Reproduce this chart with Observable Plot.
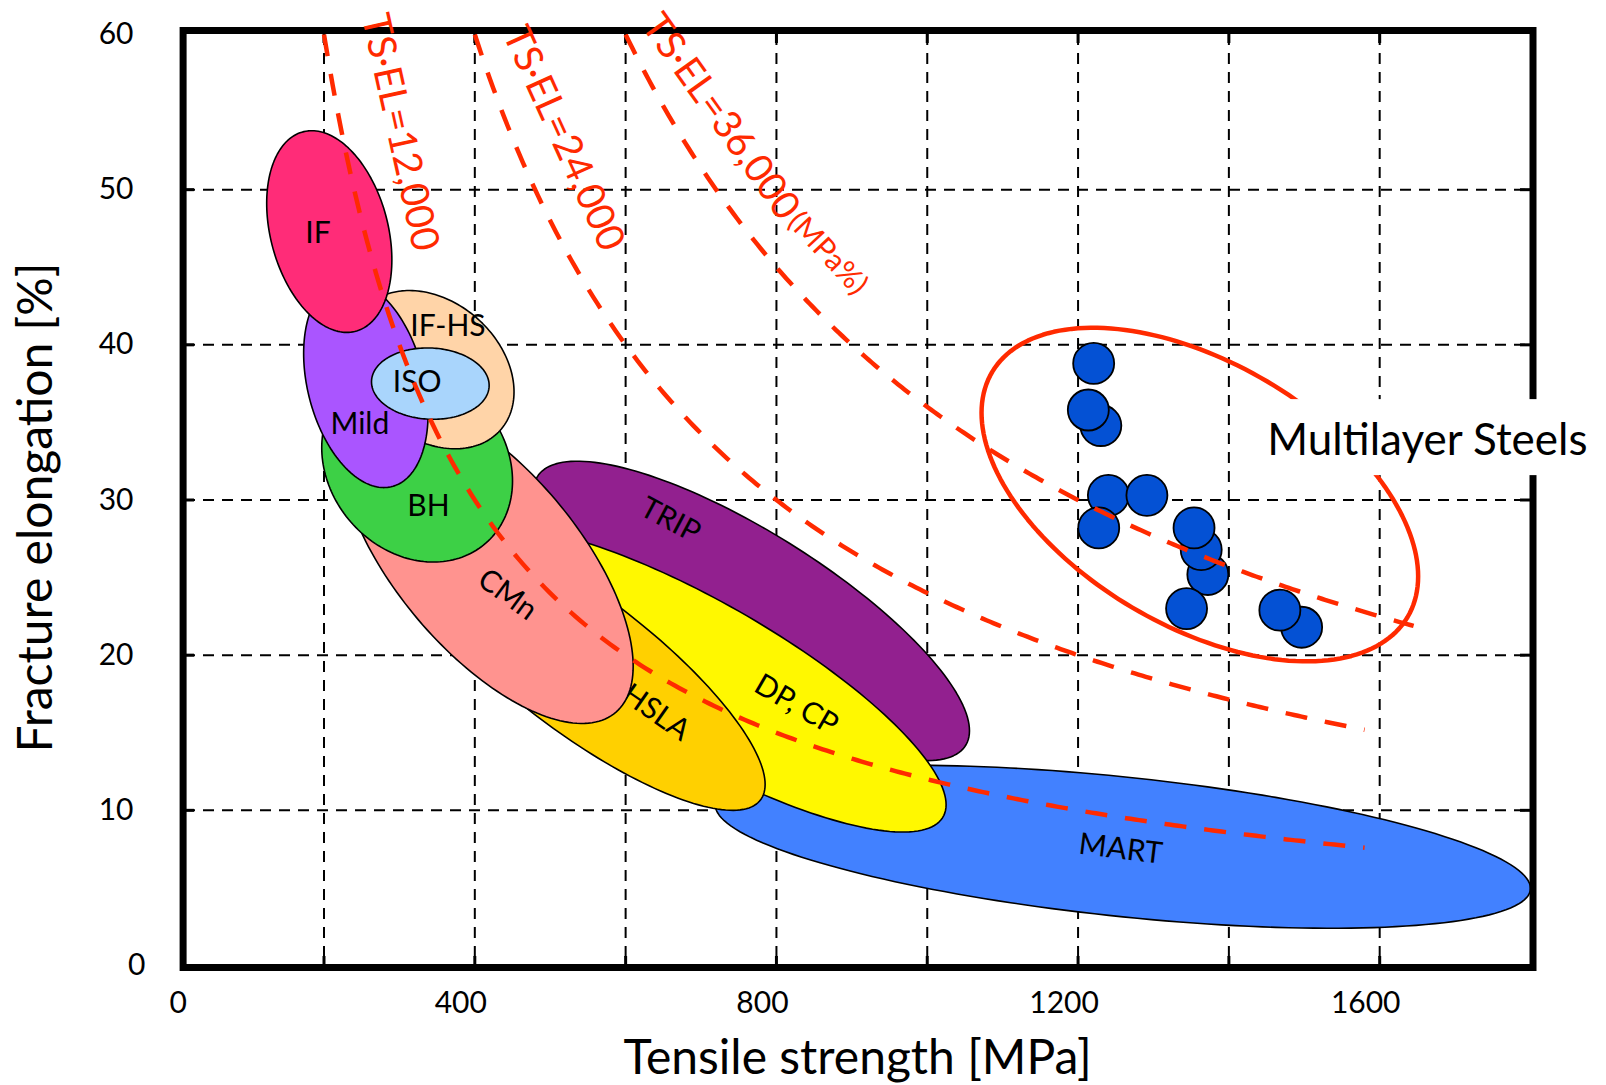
<!DOCTYPE html>
<html>
<head>
<meta charset="utf-8">
<script src="https://cdn.jsdelivr.net/npm/d3@7"></script>
<script src="https://cdn.jsdelivr.net/npm/@observablehq/plot@0.6"></script>
<style>
  html, body { margin: 0; padding: 0; background: #fff; }
  svg { display: block; }
</style>
</head>
<body>
<div id="chart"></div>
<script>
// Steel grade envelopes (drawn bottom to top): tensile strength range [MPa],
// fracture elongation range [%] and how strongly the two trade off (-1..0)
const grades = ["MART", "TRIP", "DP, CP", "HSLA", "CMn", "BH", "IF-HS", "Mild", "ISO", "IF"];
const tsMin  = [719, 478, 386, 291, 222, 197, 235, 173, 263, 124];
const tsMax  = [1800, 1056, 1025, 785, 610, 450, 452, 338, 419, 290];
const elMin  = [2.4, 13.2, 8.6, 10.0, 15.6, 26.0, 33.3, 30.8, 35.2, 40.8];
const elMax  = [12.9, 32.5, 28.2, 29.1, 36.7, 38.6, 43.5, 44.2, 39.8, 53.8];
const tilt   = [-0.51, -0.80, -0.82, -0.825, -0.65, -0.17, -0.28, -0.29, -0.05, -0.28];

// Anchor of each grade's name, in chart units
const nameTS = [1256.5, 659.3, 826.3, 640.1, 443.2, 338.5, 364.4, 247.6, 323.6, 192.0];
const nameEL = [7.5, 28.7, 16.8, 16.3, 23.9, 29.6, 41.2, 34.9, 37.6, 47.2];

// Multilayer steel samples
const multiTS = [1230.2, 1213.6, 1220.7, 1240.2, 1291.3, 1227.4, 1372.1, 1363.3, 1353.8, 1343.9, 1496.5, 1467.6];
const multiEL = [34.8, 35.8, 38.8, 30.3, 30.3, 28.2, 25.2, 26.8, 28.2, 23.0, 21.8, 22.9];

// Envelope around the multilayer samples
const envelopeTS = [1072, 1651];
const envelopeEL = [19.6, 41.1];
const envelopeTilt = -0.49;
const multiLabel = "Multilayer Steels";
const multiLabelTS = 1450.8;
const multiLabelEL = 33.8;

// Iso-product lines TS·EL = const
const products = [12000, 24000, 36000];
const productEndTS = [1580, 1580, 1645];
const productLabels = ["TS·EL=12,000", "TS·EL=24,000", "TS·EL=36,000"];
const productLabelTS = [300.5, 517.5, 726.0];
const productLabelEL = [53.7, 53.3, 54.7];
const unitLabel = "(MPa%)";
const unitLabelTS = 868.0;
const unitLabelEL = 45.9;

// Axes
const xTicks = [0, 400, 800, 1200, 1600];
const yTicks = [0, 10, 20, 30, 40, 50, 60];
const gridTS = [200, 400, 600, 800, 1000, 1200, 1400, 1600];
const gridEL = [10, 20, 30, 40, 50];
const xTitle = "Tensile strength [MPa]";
const yTitle = "Fracture elongation [%]";

// ---- styling ----
const gradeFill = ["#4281ff", "#92208f", "#fff800", "#ffd000", "#ff938f", "#3dd046", "#ffd4a8", "#aa55ff", "#a9d5fc", "#ff2c78"];
const nameAngle = [7, 28, 30, 35, 36, 0, 0, 0, 0, 0];
const productAngle = [77.6, 65.6, 54.6];
const red = "#ff2a00";
const W = 1606, H = 1085;
const mL = 184, mR = 76, mT = 34, mB = 120;
const innerW = W - mL - mR, innerH = H - mT - mB;

// Closed outline of an envelope: x = cx + rx cos t, y = cy + ry cos(t - phi), cos(phi) = tilt
function envelope(x0, x1, y0, y1, rho, n = 180) {
  const cx = (x0 + x1) / 2, rx = (x1 - x0) / 2;
  const cy = (y0 + y1) / 2, ry = (y1 - y0) / 2;
  const phi = Math.acos(rho);
  return d3.range(n).map(i => {
    const t = (2 * Math.PI * i) / n;
    return {x: cx + rx * Math.cos(t), y: cy + ry * Math.cos(t - phi)};
  });
}

// Points along TS·EL = k from the top of the chart to its end
function isoProduct(k, xEnd, n = 240) {
  const x0 = k / 60;
  return d3.range(n + 1).map(i => {
    const x = x0 + ((xEnd - x0) * i) / n;
    return {x, y: k / x};
  });
}

const marks = [];

// dashed grid
marks.push(Plot.ruleX(gridTS, {x: d => d, stroke: "#000", strokeWidth: 2, strokeDasharray: "11,8"}));
marks.push(Plot.ruleY(gridEL, {y: d => d, stroke: "#000", strokeWidth: 2, strokeDasharray: "11,8"}));

// short inward ticks on all four sides
marks.push(Plot.ruleX(gridTS, {x: d => d, insetTop: innerH - 9, stroke: "#000", strokeWidth: 3}));
marks.push(Plot.ruleX(gridTS, {x: d => d, insetBottom: innerH - 9, stroke: "#000", strokeWidth: 3}));
marks.push(Plot.ruleY(gridEL, {y: d => d, insetRight: innerW - 10, stroke: "#000", strokeWidth: 3}));
marks.push(Plot.ruleY(gridEL, {y: d => d, insetLeft: innerW - 10, stroke: "#000", strokeWidth: 3}));

// steel grade envelopes with their names
grades.forEach((g, i) => {
  marks.push(Plot.line(envelope(tsMin[i], tsMax[i], elMin[i], elMax[i], tilt[i]), {
    x: "x", y: "y", curve: "linear-closed",
    fill: gradeFill[i], stroke: "#000", strokeWidth: 1.6
  }));
  marks.push(Plot.text([i], {
    x: j => nameTS[j], y: j => nameEL[j], text: j => grades[j],
    rotate: nameAngle[i], fontSize: 30, fill: "#000"
  }));
});

// multilayer steel samples
marks.push(Plot.dot(d3.range(multiTS.length), {
  x: i => multiTS[i], y: i => multiEL[i], r: 20.5,
  fill: "#0451d4", stroke: "#000", strokeWidth: 1.8
}));

// envelope around them
marks.push(Plot.line(envelope(envelopeTS[0], envelopeTS[1], envelopeEL[0], envelopeEL[1], envelopeTilt), {
  x: "x", y: "y", curve: "linear-closed", fill: "none", stroke: red, strokeWidth: 4.5
}));

// iso-product lines
products.forEach((k, i) => {
  marks.push(Plot.line(isoProduct(k, productEndTS[i]), {
    x: "x", y: "y", stroke: red, strokeWidth: 4.5,
    strokeDasharray: "22,18", strokeLinecap: "butt"
  }));
});

// heavy frame
marks.push(Plot.frame({stroke: "#000", strokeWidth: 7, insetLeft: -1.4, insetTop: -4, insetRight: -2.5, insetBottom: -2}));

// labels of the iso-product lines
marks.push(Plot.text(d3.range(products.length), {
  x: i => productLabelTS[i], y: i => productLabelEL[i], text: i => productLabels[i],
  rotate: i => productAngle[i], fontSize: 39, fill: red
}));
marks.push(Plot.text([unitLabel], {
  x: () => unitLabelTS, y: () => unitLabelEL, text: d => d,
  rotate: 47, fontSize: 30, fill: red
}));

// tick labels
marks.push(Plot.text(xTicks.filter(v => v === 0), {x: d => d, frameAnchor: "bottom", lineAnchor: "middle", dy: 38, dx: 5, text: d => String(d), fontSize: 30, fill: "#000"}));
marks.push(Plot.text(xTicks.filter(v => v !== 0), {x: d => d, frameAnchor: "bottom", lineAnchor: "middle", dy: 38, dx: -14, text: d => String(d), fontSize: 30, fill: "#000"}));
marks.push(Plot.text(yTicks.filter(v => v === 0), {y: d => d, frameAnchor: "left", lineAnchor: "middle", dx: -39, textAnchor: "end", text: d => String(d), fontSize: 30, fill: "#000"}));
marks.push(Plot.text(yTicks.filter(v => v !== 0), {y: d => d, frameAnchor: "left", lineAnchor: "middle", dx: -51, textAnchor: "end", text: d => String(d), fontSize: 30, fill: "#000"}));

// axis titles
marks.push(Plot.text([xTitle], {frameAnchor: "bottom", lineAnchor: "middle", textAnchor: "middle", dy: 93, text: d => d, fontSize: 48, fill: "#000"}));
marks.push(Plot.text([yTitle], {frameAnchor: "left", lineAnchor: "middle", textAnchor: "middle", dx: -148, dy: 7.5, rotate: -90, text: d => d, fontSize: 48, fill: "#000"}));

// multilayer label (a white box is slipped in behind it after rendering)
marks.push(Plot.text([multiLabel], {
  x: () => multiLabelTS, y: () => multiLabelEL, text: d => d,
  textAnchor: "start", lineAnchor: "middle", fontSize: 44, fill: "#000"
}));

const svg = Plot.plot({
  width: W, height: H,
  marginLeft: mL, marginRight: mR, marginTop: mT, marginBottom: mB,
  x: {domain: [15, 1800], axis: null},
  y: {domain: [0, 60], axis: null},
  style: {fontFamily: "Lato, 'Open Sans', sans-serif", background: "#fff", color: "#000", overflow: "visible"},
  marks
});
document.getElementById("chart").append(svg);

// white backing box for the multilayer label, breaking the envelope and the frame
const label = Array.from(svg.querySelectorAll("text")).find(t => t.textContent === multiLabel);
if (label) {
  const bb = label.getBBox();
  const box = document.createElementNS("http://www.w3.org/2000/svg", "rect");
  box.setAttribute("x", bb.x - 14);
  box.setAttribute("y", bb.y - 13);
  box.setAttribute("width", bb.width + 30);
  box.setAttribute("height", bb.height + 24);
  box.setAttribute("fill", "#fff");
  const tr = label.getAttribute("transform");
  if (tr) box.setAttribute("transform", tr);
  label.parentNode.insertBefore(box, label);
}
</script>
</body>
</html>
